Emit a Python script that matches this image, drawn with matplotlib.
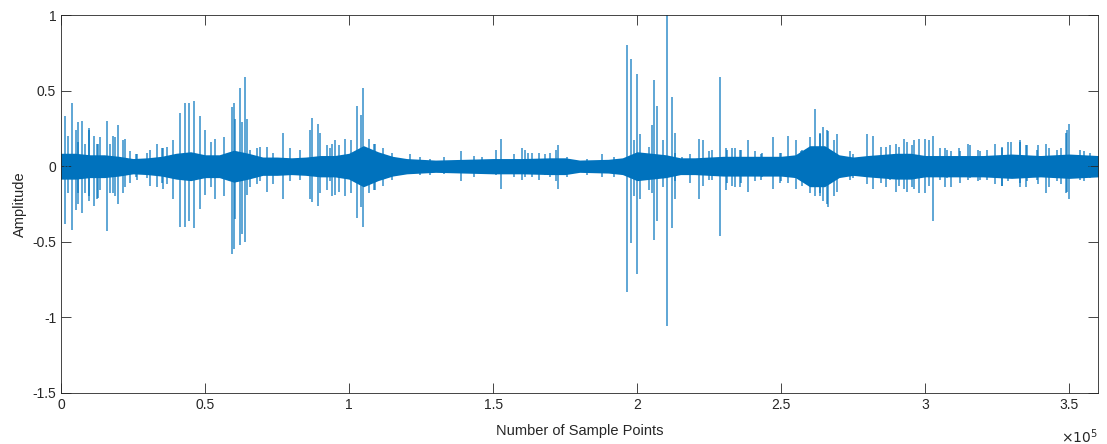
import numpy as np
import matplotlib
matplotlib.use("Agg")
import matplotlib.pyplot as plt

plt.rcParams['font.family'] = ['Liberation Sans', 'DejaVu Sans']
plt.rcParams['axes.unicode_minus'] = False

# dense part of the signal: half-width of the solid band (x in units of 1e5 samples)
band_x = [0.0, 0.05, 0.1, 0.15, 0.2, 0.25, 0.3, 0.35, 0.4, 0.45, 0.5, 0.55, 0.6, 0.65,
          0.7, 0.75, 0.8, 0.85, 0.9, 0.95, 1.0, 1.05, 1.1, 1.15, 1.2, 1.3, 1.4, 1.5,
          1.6, 1.7, 1.75, 1.8, 1.9, 1.95, 2.0, 2.05, 2.1, 2.15, 2.2, 2.3, 2.4, 2.5,
          2.55, 2.6, 2.65, 2.7, 2.75, 2.8, 2.9, 2.95, 3.0, 3.1, 3.2, 3.3, 3.4, 3.5, 3.6]
band_hw = [0.08, 0.08, 0.07, 0.07, 0.06, 0.045, 0.05, 0.06, 0.08, 0.09, 0.07, 0.07, 0.10, 0.08,
           0.055, 0.055, 0.05, 0.055, 0.065, 0.065, 0.08, 0.13, 0.09, 0.06, 0.045, 0.035, 0.04, 0.045,
           0.045, 0.05, 0.05, 0.035, 0.04, 0.05, 0.09, 0.08, 0.07, 0.05, 0.05, 0.06, 0.06, 0.06,
           0.07, 0.13, 0.13, 0.07, 0.055, 0.065, 0.08, 0.08, 0.065, 0.065, 0.065, 0.075, 0.065, 0.075, 0.065]

# individual peaks (position in 1e5 samples, max, min)
spike_x = [0.014, 0.037, 0.058, 0.072, 0.097, 0.115, 0.130, 0.159, 0.180, 0.198, 0.221, 0.26,
           0.30, 0.332, 0.355, 0.389, 0.413, 0.430, 0.444, 0.462, 0.482, 0.500, 0.520, 0.535,
           0.565, 0.593, 0.600, 0.604, 0.622, 0.630, 0.640, 0.647, 0.68, 0.714, 0.771, 0.865,
           0.873, 0.893, 0.900, 0.925, 0.940, 0.951, 0.966, 0.986, 1.005, 1.027, 1.040, 1.050,
           1.07, 1.09, 1.21, 1.39, 1.46, 1.51, 1.528, 1.61, 1.62, 1.68, 1.72, 1.726,
           1.966, 1.978, 1.999, 2.01, 2.04, 2.05, 2.057, 2.070, 2.09, 2.105, 2.120, 2.13,
           2.215, 2.23, 2.25, 2.288, 2.31, 2.34, 2.36, 2.386, 2.41, 2.43, 2.47, 2.50, 2.525,
           2.55, 2.57, 2.618, 2.635, 2.646, 2.662, 2.693, 2.74, 2.797, 2.82, 2.845, 2.865,
           2.90, 2.927, 2.96, 2.98, 3.00, 3.012, 3.028, 3.07, 3.09, 3.12, 3.157, 3.19, 3.243,
           3.265, 3.297, 3.33, 3.35, 3.39, 3.42, 3.43, 3.47, 3.488, 3.50, 3.55,
           0.025, 0.052, 0.060, 0.083, 0.098, 0.124, 0.135, 0.170, 0.188, 0.216, 0.240, 0.263,
           0.309, 0.350, 0.367, 0.656, 0.691, 0.737, 0.795, 0.830, 0.934, 1.085, 1.119, 1.148,
           1.247, 1.281, 1.328, 1.432, 1.572, 1.601, 1.636, 1.659, 1.698, 1.756, 1.825, 1.877,
           1.918, 1.99, 2.132, 2.155, 2.184, 2.259, 2.312, 2.329, 2.357, 2.433, 2.497, 2.572,
           2.601, 2.636, 2.659, 2.682, 2.722, 2.751, 2.879, 2.908, 2.936, 2.954, 3.052, 3.075,
           3.116, 3.15, 3.185, 3.214, 3.266, 3.289, 3.33, 3.353, 3.388, 3.457, 3.492, 3.538, 3.573]
spike_top = [0.33, 0.42, 0.29, 0.30, 0.25, 0.20, 0.15, 0.30, 0.20, 0.27, 0.18, 0.08,
             0.09, 0.15, 0.12, 0.17, 0.35, 0.42, 0.42, 0.43, 0.33, 0.24, 0.16, 0.18,
             0.19, 0.39, 0.42, 0.31, 0.52, 0.29, 0.59, 0.31, 0.12, 0.13, 0.22, 0.24,
             0.32, 0.28, 0.22, 0.14, 0.15, 0.17, 0.14, 0.18, 0.17, 0.40, 0.34, 0.52,
             0.18, 0.15, 0.08, 0.10, 0.06, 0.11, 0.18, 0.11, 0.09, 0.08, 0.11, 0.14,
             0.80, 0.71, 0.61, 0.21, 0.13, 0.27, 0.57, 0.40, 0.17, 1.05, 0.46, 0.22,
             0.18, 0.17, 0.10, 0.59, 0.12, 0.12, 0.11, 0.17, 0.10, 0.08, 0.19, 0.09, 0.20,
             0.17, 0.10, 0.38, 0.21, 0.26, 0.23, 0.21, 0.10, 0.21, 0.20, 0.13, 0.13,
             0.15, 0.18, 0.17, 0.18, 0.18, 0.17, 0.20, 0.12, 0.10, 0.10, 0.14, 0.10, 0.15,
             0.12, 0.16, 0.17, 0.14, 0.14, 0.15, 0.12, 0.12, 0.22, 0.28, 0.10,
             0.20, 0.24, 0.16, 0.15, 0.24, 0.15, 0.19, 0.15, 0.19, 0.17, 0.10, 0.08,
             0.11, 0.12, 0.13, 0.11, 0.13, 0.09, 0.12, 0.11, 0.12, 0.15, 0.12, 0.09,
             0.06, 0.05, 0.06, 0.07, 0.08, 0.12, 0.09, 0.09, 0.09, 0.06, 0.05, 0.08,
             0.06, 0.17, 0.09, 0.06, 0.08, 0.11, 0.11, 0.12, 0.11, 0.09, 0.09, 0.11,
             0.19, 0.22, 0.24, 0.17, 0.06, 0.08, 0.14, 0.13, 0.16, 0.14, 0.12, 0.11,
             0.12, 0.15, 0.11, 0.11, 0.13, 0.16, 0.16, 0.14, 0.11, 0.11, 0.24, 0.11, 0.09]
spike_bot = [-0.38, -0.42, -0.25, -0.31, -0.23, -0.26, -0.21, -0.43, -0.18, -0.25, -0.14, -0.07,
             -0.08, -0.14, -0.15, -0.22, -0.40, -0.40, -0.36, -0.41, -0.28, -0.19, -0.14, -0.22,
             -0.20, -0.58, -0.55, -0.35, -0.52, -0.45, -0.50, -0.19, -0.12, -0.17, -0.22, -0.22,
             -0.24, -0.26, -0.18, -0.16, -0.20, -0.19, -0.17, -0.20, -0.18, -0.34, -0.27, -0.40,
             -0.18, -0.16, -0.05, -0.10, -0.05, -0.06, -0.15, -0.07, -0.05, -0.06, -0.10, -0.15,
             -0.83, -0.51, -0.71, -0.22, -0.16, -0.18, -0.49, -0.36, -0.14, -1.06, -0.41, -0.22,
             -0.22, -0.13, -0.09, -0.46, -0.16, -0.14, -0.11, -0.17, -0.10, -0.09, -0.15, -0.10, -0.11,
             -0.15, -0.09, -0.20, -0.18, -0.23, -0.27, -0.17, -0.09, -0.12, -0.15, -0.11, -0.14,
             -0.17, -0.15, -0.15, -0.18, -0.18, -0.13, -0.36, -0.14, -0.14, -0.11, -0.08, -0.09, -0.12,
             -0.13, -0.08, -0.14, -0.14, -0.12, -0.18, -0.14, -0.12, -0.18, -0.22, -0.10,
             -0.18, -0.29, -0.18, -0.18, -0.20, -0.22, -0.16, -0.18, -0.20, -0.18, -0.11, -0.09,
             -0.13, -0.11, -0.12, -0.14, -0.10, -0.12, -0.10, -0.09, -0.10, -0.16, -0.13, -0.09,
             -0.06, -0.06, -0.05, -0.07, -0.07, -0.09, -0.07, -0.09, -0.07, -0.07, -0.06, -0.07,
             -0.07, -0.20, -0.10, -0.06, -0.11, -0.09, -0.11, -0.13, -0.14, -0.07, -0.11, -0.13,
             -0.18, -0.20, -0.25, -0.20, -0.07, -0.08, -0.09, -0.13, -0.17, -0.14, -0.09, -0.08,
             -0.07, -0.09, -0.10, -0.09, -0.13, -0.10, -0.11, -0.10, -0.09, -0.10, -0.17, -0.09, -0.08]

x_ticks = [0, 0.5, 1, 1.5, 2, 2.5, 3, 3.5]
x_tick_labels = ['0', '0.5', '1', '1.5', '2', '2.5', '3', '3.5']
y_ticks = [-1.5, -1, -0.5, 0, 0.5, 1]
y_tick_labels = ['-1.5', '-1', '-0.5', '0', '0.5', '1']

blue = '#0072BD'
grey = '#262626'

fig = plt.figure(figsize=(11.07, 4.44), dpi=100)
ax = fig.add_axes([0.0551, 0.1149, 0.9368, 0.8513])

bx = np.array(band_x) * 1e5
hw = np.array(band_hw)
ax.fill_between(bx, -hw, hw, facecolor=blue, edgecolor=blue, linewidth=1.2)
ax.vlines(np.array(spike_x) * 1e5, spike_bot, spike_top, color=blue, linewidth=1.1, alpha=0.8)

ax.set_xlim(0, 3.6e5)
ax.set_ylim(-1.5, 1)
ax.set_xticks(np.array(x_ticks) * 1e5)
ax.set_xticklabels(x_tick_labels)
ax.set_yticks(y_ticks)
ax.set_yticklabels(y_tick_labels)

ax.tick_params(direction='in', length=7, width=0.6, colors=grey, labelsize=10,
               top=True, right=True)
for s in ax.spines.values():
    s.set_color(grey)
    s.set_linewidth(0.6)

ax.set_xlabel('Number of Sample Points', fontsize=10.5, color=grey, labelpad=9)
ax.set_ylabel('Amplitude', fontsize=10.5, color=grey, labelpad=4)
ax.text(1.0, -0.09, r'$\times10^5$', transform=ax.transAxes, ha='right', va='top',
        fontsize=10, color=grey)

fig.savefig('out.png', dpi=100)
